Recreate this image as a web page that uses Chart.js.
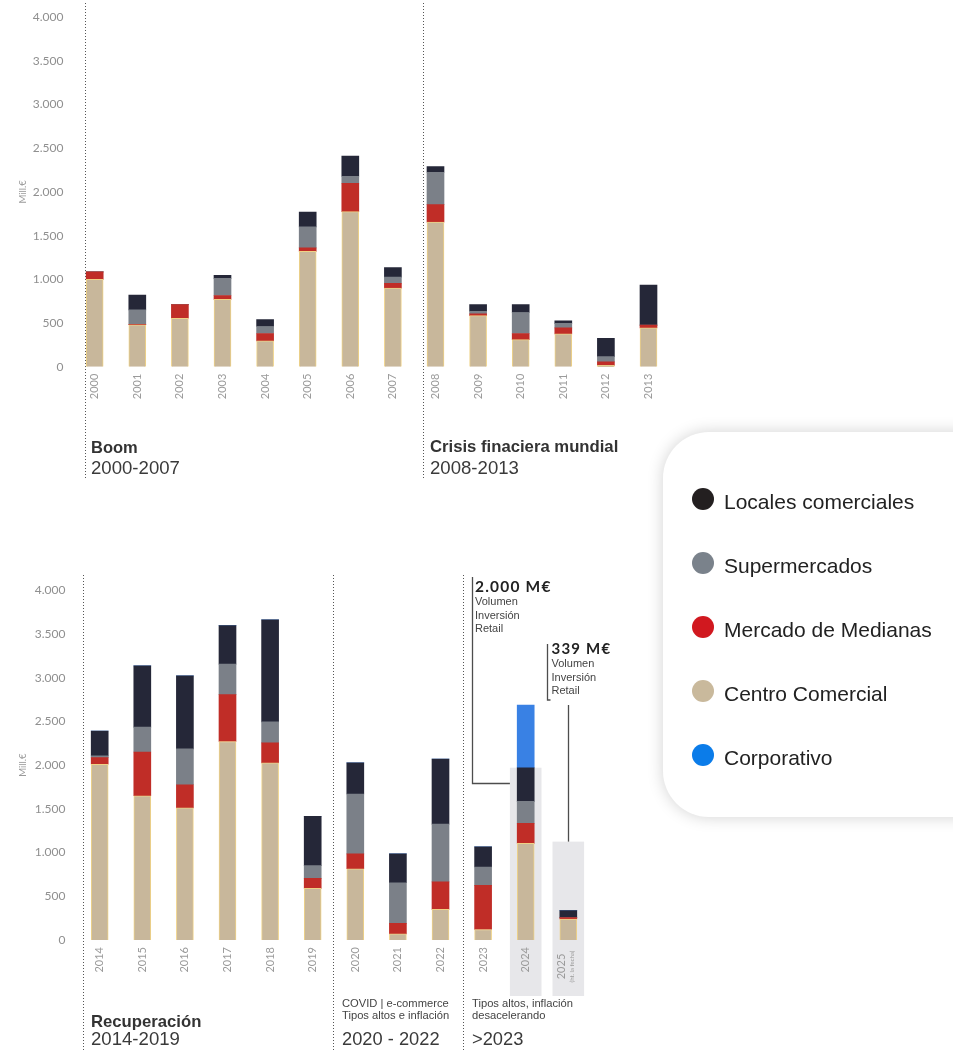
<!DOCTYPE html>
<html>
<head>
<meta charset="utf-8">
<script src="https://cdn.jsdelivr.net/npm/chart.js@4.4.1/dist/chart.umd.min.js"></script>
<style>
  html, body { margin: 0; padding: 0; background: #fff; }
  body { width: 953px; height: 1050px; position: relative; overflow: hidden; font-family: "Liberation Sans", Arial, sans-serif; }
  canvas { position: absolute; left: 0; }
  #top-chart { top: 0; }
  #bottom-chart { top: 570px; }
  .txt { position: absolute; white-space: nowrap; line-height: 1; }
  .legend { position: absolute; left: 663px; top: 432px; width: 330px; height: 385px; background: #fff;
            border-radius: 46px 0 0 46px; box-shadow: 0 0 16px rgba(0,0,0,0.18); }
  .dot { position: absolute; width: 22px; height: 22px; border-radius: 50%; }
</style>
</head>
<body>
<canvas id="top-chart" width="680" height="480"></canvas>
<canvas id="bottom-chart" width="680" height="480"></canvas>
<div class="legend"></div>

<script>
/*--------------------------------------------------------------
| Data (Mill. €)
--------------------------------------------------------------*/
const years = [
    "2000", "2001", "2002", "2003", "2004", "2005", "2006", "2007",
    "2008", "2009", "2010", "2011", "2012", "2013",
    "2014", "2015", "2016", "2017", "2018", "2019",
    "2020", "2021", "2022", "2023", "2024", "2025",
];
const centroComercial = [
    1000, 480, 555, 770, 295, 1320, 1775, 900,
    1655, 585, 310, 375, 15, 445,
    2010, 1650, 1510, 2270, 2025, 590,
    815, 70, 350, 120, 1105, 240,
];
const mercadoMedianas = [
    85, 5, 155, 45, 85, 40, 325, 55,
    200, 20, 70, 70, 40, 30,
    75, 500, 265, 535, 230, 115,
    170, 120, 315, 505, 230, 15,
];
const supermercados = [
    0, 165, 0, 195, 80, 240, 80, 70,
    370, 30, 240, 50, 60, 0,
    20, 285, 410, 350, 240, 145,
    685, 465, 660, 210, 250, 0,
];
const localesComerciales = [
    0, 170, 0, 35, 80, 170, 230, 110,
    65, 75, 90, 30, 210, 460,
    285, 700, 835, 440, 1165, 565,
    355, 330, 745, 230, 385, 80,
];
const corporativo = [
    0, 0, 0, 0, 0, 0, 0, 0,
    0, 0, 0, 0, 0, 0,
    0, 0, 0, 0, 0, 0,
    0, 0, 0, 0, 715, 0,
];
const yTickValues = [0, 500, 1000, 1500, 2000, 2500, 3000, 3500, 4000];

// highlighted years (grey background) and where the box starts
const highlightYears = ["2024", "2025"];
const highlightFrom = [1970, 1125];

const series = [
    { label: "Centro Comercial", data: centroComercial, color: "#c8b79b", legend: "#c9b99c" },
    { label: "Mercado de Medianas", data: mercadoMedianas, color: "#c02d27", legend: "#d1181f" },
    { label: "Supermercados", data: supermercados, color: "#7b8088", legend: "#7a828b" },
    { label: "Locales comerciales", data: localesComerciales, color: "#252738", legend: "#231f20" },
    { label: "Corporativo", data: corporativo, color: "#3981e4", legend: "#0b7ce9" },
];

/*--------------------------------------------------------------
| Helpers
--------------------------------------------------------------*/
const fmt = (v) => String(v).replace(/\B(?=(\d{3})+(?!\d))/g, ".");

function buildSets(from, to) {
    return series
        .filter((s) => s.data.slice(from, to).some((v) => v > 0))
        .map((s) => ({
            label: s.label,
            data: s.data.slice(from, to),
            backgroundColor: s.color,
            borderColor: s.label === "Centro Comercial" ? "#efd286" : s.color,
            borderWidth: s.label === "Centro Comercial" ? 1 : 0,
            barThickness: 17,
        }));
}

// dotted dividers, grey highlight boxes, y title
const decor = {
    id: "decor",
    beforeDraw(chart, args, opts) {
        const { ctx } = chart;
        const x = chart.scales.x, y = chart.scales.y;
        const labels = chart.data.labels;
        ctx.save();
        ctx.fillStyle = "#e7e7ea";
        highlightYears.forEach((yr, i) => {
            const idx = labels.indexOf(yr);
            if (idx < 0) return;
            const cx = x.getPixelForValue(idx);
            const top = y.getPixelForValue(highlightFrom[i]);
            ctx.fillRect(cx - 15.8, top, 31.6, opts.boxBottom - top);
        });
        ctx.restore();
    },
    afterDraw(chart, args, opts) {
        const { ctx, chartArea } = chart;
        const x = chart.scales.x;
        const step = x.getPixelForValue(1) - x.getPixelForValue(0);

        ctx.save();
        ctx.setLineDash([1, 2]);
        ctx.strokeStyle = "#555";
        ctx.lineWidth = 1;
        opts.dividers.forEach((d) => {
            const px = Math.round(x.getPixelForValue(0) + d * step) + 0.5;
            ctx.beginPath();
            ctx.moveTo(px, opts.dividerTop);
            ctx.lineTo(px, chart.height);
            ctx.stroke();
        });
        ctx.restore();

        // y title
        ctx.save();
        ctx.translate(23, (chartArea.top + chartArea.bottom) / 2);
        ctx.rotate(-Math.PI / 2);
        ctx.textAlign = "center";
        ctx.textBaseline = "middle";
        ctx.fillStyle = "#9a9a9a";
        ctx.font = "9.5px Lato";
        ctx.fillText("Mill.€", 0, 0);
        ctx.restore();
    },
};

// 2025 two-part tick label + callout lines on the lower chart
const callouts = {
    id: "callouts",
    afterDraw(chart) {
        const { ctx, chartArea } = chart;
        const x = chart.scales.x, y = chart.scales.y;
        const i24 = chart.data.labels.indexOf("2024");
        const i25 = chart.data.labels.indexOf("2025");
        const c24 = x.getPixelForValue(i24), c25 = x.getPixelForValue(i25);

        ctx.save();
        ctx.translate(c25, chartArea.bottom + 26.5);
        ctx.rotate(-Math.PI / 2);
        ctx.textAlign = "center";
        ctx.textBaseline = "middle";
        ctx.fillStyle = "#9b9b9b";
        ctx.font = "11px Lato";
        ctx.fillText("2025", 0, -7);
        ctx.font = "6px Lato";
        ctx.fillText("(ht. la fecha)", 0, 3.5);
        ctx.restore();

        ctx.save();
        ctx.strokeStyle = "#4d4d4d";
        ctx.lineWidth = 1.3;
        const ax = Math.round(c24 - 54) + 0.5;
        const ay = Math.round(y.getPixelForValue(1800)) + 0.5;
        ctx.beginPath();
        ctx.moveTo(ax, 7);
        ctx.lineTo(ax, ay);
        ctx.lineTo(c24 - 15.8, ay);
        ctx.stroke();

        const bx = Math.round((c24 + c25) / 2) + 0.5;
        ctx.beginPath();
        ctx.moveTo(bx, 74);
        ctx.lineTo(bx, 130);
        ctx.lineTo(bx + 3, 130);
        ctx.stroke();

        const lx = Math.round(c25) + 0.5;
        ctx.beginPath();
        ctx.moveTo(lx, 135);
        ctx.lineTo(lx, y.getPixelForValue(highlightFrom[1]));
        ctx.stroke();
        ctx.restore();
    },
};

function makeChart(id, from, to, cfg) {
    const labels = years.slice(from, to);
    return new Chart(document.getElementById(id), {
        type: "bar",
        data: { labels, datasets: buildSets(from, to) },
        plugins: cfg.plugins,
        options: {
            responsive: false,
            animation: false,
            layout: { padding: { top: cfg.top, right: cfg.right, left: 0, bottom: 0 } },
            plugins: {
                legend: { display: false },
                tooltip: { enabled: false },
                decor: { dividers: cfg.dividers, dividerTop: cfg.dividerTop, boxBottom: cfg.boxBottom },
            },
            scales: {
                x: {
                    stacked: true,
                    grid: { display: false, drawTicks: false },
                    border: { display: false },
                    ticks: {
                        color: "#9b9b9b",
                        font: { family: "Lato", size: 11 },
                        minRotation: 90,
                        maxRotation: 90,
                        padding: 7,
                        autoSkip: false,
                        callback(v) {
                            const l = this.getLabelForValue(v);
                            return l === "2025" ? "" : l;
                        },
                    },
                    afterFit(s) { s.height = cfg.xHeight; },
                },
                y: {
                    stacked: true,
                    min: 0,
                    max: 4000,
                    grid: { display: false, drawTicks: false },
                    border: { display: false },
                    afterBuildTicks(s) { s.ticks = yTickValues.map((v) => ({ value: v })); },
                    ticks: {
                        color: "#8f8f8f",
                        font: { family: "Lato", size: 12 },
                        padding: cfg.yPad,
                        callback: (v) => fmt(v),
                    },
                    afterFit(s) { s.width = cfg.yWidth; },
                },
            },
        },
    });
}

makeChart("top-chart", 0, 14, {
    top: 16, right: 10.2, yWidth: 73.4, xHeight: 113.3, yPad: 10,
    dividers: [-0.22, 7.714], dividerTop: 3, boxBottom: 0, plugins: [decor],
});
makeChart("bottom-chart", 14, 26, {
    top: 18.3, right: 90.4, yWidth: 78.4, xHeight: 110, yPad: 13,
    dividers: [-0.385, 5.484, 8.535], dividerTop: 5, boxBottom: 426, plugins: [decor, callouts],
});

/*--------------------------------------------------------------
| Text blocks (x, baseline)
--------------------------------------------------------------*/
const SANS = '"Liberation Sans", Arial, sans-serif';
const texts = [
    ["Boom", 91, 453.3, 16.5, 700, SANS, "#333"],
    ["2000-2007", 91, 474.3, 18.6, 400, SANS, "#3a3a3a"],
    ["Crisis finaciera mundial", 430, 453.3, 16.7, 700, SANS, "#333"],
    ["2008-2013", 430, 474.3, 18.6, 400, SANS, "#3a3a3a"],
    ["Recuperación", 91, 1027.7, 16.7, 700, SANS, "#333"],
    ["2014-2019", 91, 1046, 18.6, 400, SANS, "#3a3a3a"],
    ["COVID | e-commerce", 342, 1007, 11.2, 400, SANS, "#444"],
    ["Tipos altos e inflación", 342, 1019.5, 11.2, 400, SANS, "#444"],
    ["2020 - 2022", 342, 1045, 18.3, 400, SANS, "#3a3a3a"],
    ["Tipos altos, inflación", 472, 1007, 11.2, 400, SANS, "#444"],
    ["desacelerando", 472, 1019.5, 11.2, 400, SANS, "#444"],
    [">2023", 472, 1045, 18.3, 400, SANS, "#3a3a3a"],
    ["2.000 M€", 475, 592.7, 15.5, 700, "Lato", "#222"],
    ["Volumen", 475, 605.5, 11, 400, SANS, "#444"],
    ["Inversión", 475, 619, 11, 400, SANS, "#444"],
    ["Retail", 475, 632, 11, 400, SANS, "#444"],
    ["339 M€", 551.5, 654.7, 15, 700, "Lato", "#222"],
    ["Volumen", 551.5, 667, 11, 400, SANS, "#444"],
    ["Inversión", 551.5, 681, 11, 400, SANS, "#444"],
    ["Retail", 551.5, 694.5, 11, 400, SANS, "#444"],
];
texts.forEach(([t, x, base, size, weight, family, color]) => {
    const d = document.createElement("div");
    d.className = "txt";
    d.textContent = t;
    const k = family === "Lato" ? 0.887 : 0.8465;
    Object.assign(d.style, {
        left: x + "px",
        top: base - k * size + "px",
        fontSize: size + "px",
        fontWeight: weight,
        fontFamily: family,
        color,
        letterSpacing: family === "Lato" ? "1.2px" : "0",
    });
    document.body.appendChild(d);
});

/*--------------------------------------------------------------
| Legend card
--------------------------------------------------------------*/
const legendOrder = ["Locales comerciales", "Supermercados", "Mercado de Medianas", "Centro Comercial", "Corporativo"];
legendOrder.forEach((name, i) => {
    const s = series.find((o) => o.label === name);
    const cy = 499.3 + i * 64;
    const dot = document.createElement("div");
    dot.className = "dot";
    Object.assign(dot.style, { left: "692.3px", top: cy - 11 + "px", background: s.legend });
    document.body.appendChild(dot);
    const t = document.createElement("div");
    t.className = "txt";
    t.textContent = name;
    Object.assign(t.style, { left: "724px", top: cy + 9.7 - 0.8465 * 21 + "px", fontSize: "21px", color: "#222" });
    document.body.appendChild(t);
});
</script>
</body>
</html>
